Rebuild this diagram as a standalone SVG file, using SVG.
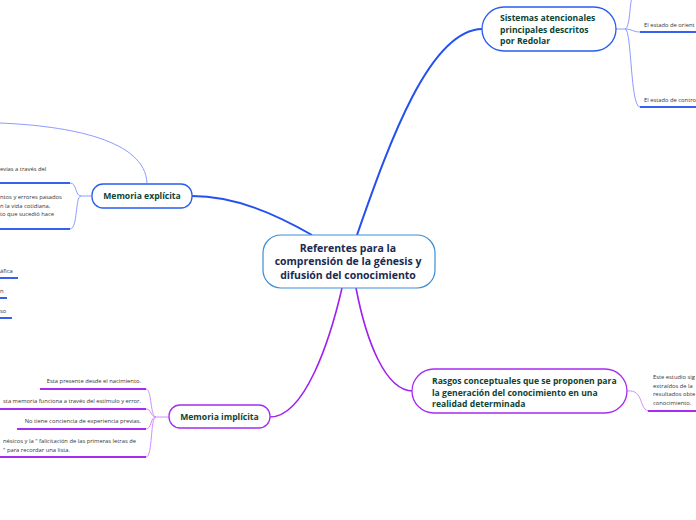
<svg xmlns="http://www.w3.org/2000/svg" width="696" height="520" viewBox="0 0 696 520">
<style>
.bg{fill:#ffffff}
.center{fill:#fff;stroke:#3a8ed6;stroke-width:1.2}
.nb{fill:#fff;stroke:#2a5cf0;stroke-width:1.3}
.np{fill:#fff;stroke:#a52cf0;stroke-width:1.3}
.tc{font-family:"Open Sans","Noto Sans",sans-serif;font-weight:bold;font-size:10.5px;fill:#1a2a52;text-anchor:middle}
.tn{font-family:"Open Sans","Noto Sans",sans-serif;font-weight:bold;font-size:8.6px;fill:#0e4434}
.ts{font-family:"Open Sans","Noto Sans",sans-serif;font-size:5.8px;fill:#333}
.mb{fill:none;stroke:#2450f0;stroke-width:2}
.mp{fill:none;stroke:#a020f0;stroke-width:1.6}
.lb{fill:none;stroke:#8a9cff;stroke-width:1}
.lp{fill:none;stroke:#d58cff;stroke-width:1}
.ub{stroke:#3560f0;stroke-width:2}
.up{stroke:#a52cf0;stroke-width:2}
</style>
<rect class="bg" x="0" y="0" width="696" height="520"/>
<g id="connectors">
<path class="mb" d="M312,235 C275,214 235,196 192,196"/>
<path class="mb" d="M357,235 C390,140 430,30 482,29"/>
<path class="mp" d="M342,288 C330,340 305,417 270,417"/>
<path class="mp" d="M356,288 C366,340 385,391 413,391"/>
<path class="lb" d="M0,123 C70,126 145,140 147,183"/>
<path class="lb" d="M92,196 L81,196 C75,196 77,183 70,183"/>
<path class="lb" d="M81,196 C75,196 78,229 70,229"/>
<line class="ub" x1="0" y1="183" x2="70" y2="183"/>
<line class="ub" x1="0" y1="229" x2="70" y2="229"/>
<line class="ub" x1="0" y1="278" x2="18" y2="278"/>
<line class="ub" x1="0" y1="298" x2="7" y2="298"/>
<line class="ub" x1="0" y1="318" x2="12" y2="318"/>
<path class="lp" d="M169,417 L156,417 C150,417 152,389 146,389"/>
<path class="lp" d="M156,417 C150,417 152,409 146,409"/>
<path class="lp" d="M156,417 C150,417 152,429 146,429"/>
<path class="lp" d="M156,417 C150,417 153,457 146,457"/>
<line class="up" x1="40" y1="389" x2="146" y2="389"/>
<line class="up" x1="0" y1="409" x2="146" y2="409"/>
<line class="up" x1="17" y1="429" x2="146" y2="429"/>
<line class="up" x1="0" y1="457" x2="146" y2="457"/>
<path class="lb" d="M616,29 L625,29 C630,29 630,0 632,-2"/>
<path class="lb" d="M625,29 C632,29 633,32 640,32"/>
<path class="lb" d="M625,29 C632,29 630,107 640,107"/>
<line class="ub" x1="640" y1="32" x2="696" y2="32"/>
<line class="ub" x1="640" y1="107" x2="696" y2="107"/>
<path class="lp" d="M627,391 C645,389 638,411 650,411"/>
<line class="up" x1="648" y1="411" x2="696" y2="411"/>
</g>
<g id="central">
<rect class="center" x="263" y="235" width="172" height="53" rx="18"/>
<text class="tc" x="348" y="252">Referentes para la</text>
<text class="tc" x="348" y="265">comprensión de la génesis y</text>
<text class="tc" x="348" y="279">difusión del conocimiento</text>
</g>
<g id="memoria-explicita">
<rect class="nb" x="92" y="184" width="100" height="24" rx="11"/>
<text class="tn" x="142" y="199" text-anchor="middle">Memoria explícita</text>
</g>
<g id="explicita-items">
<text class="ts" x="0" y="171">evias a través del</text>
<text class="ts" x="0" y="199">ntos y errores pasados</text>
<text class="ts" x="0" y="207.5">n la vida cotidiana,</text>
<text class="ts" x="0" y="216">to que sucedió hace</text>
<text class="ts" x="0" y="273">áfica</text>
<text class="ts" x="0" y="293">n</text>
<text class="ts" x="0" y="313">so</text>
</g>
<g id="memoria-implicita">
<rect class="np" x="169" y="405" width="101" height="23" rx="11"/>
<text class="tn" x="219.5" y="420" text-anchor="middle">Memoria implícita</text>
</g>
<g id="implicita-items">
<text class="ts" x="141" y="383" text-anchor="end">Esta presente desde el nacimiento.</text>
<text class="ts" x="141" y="403" text-anchor="end">sta memoria funciona a través del estímulo y error.</text>
<text class="ts" x="141" y="423" text-anchor="end">No tiene conciencia de experiencia previas.</text>
<text class="ts" x="136" y="443" text-anchor="end">nésicos y la " falicitación de las primeras letras de</text>
<text class="ts" x="70" y="452" text-anchor="end">" para recordar una lista.</text>
</g>
<g id="sistemas">
<rect class="nb" x="482" y="7" width="134" height="44" rx="22"/>
<text class="tn" x="500" y="21">Sistemas atencionales</text>
<text class="tn" x="500" y="32.5">principales descritos</text>
<text class="tn" x="500" y="44">por Redolar</text>
</g>
<g id="sistemas-items">
<text class="ts" x="644" y="27">El estado de orient</text>
<text class="ts" x="644" y="102">El estado de contro</text>
</g>
<g id="rasgos">
<rect class="np" x="412" y="369" width="215" height="44" rx="22"/>
<text class="tn" x="432" y="384">Rasgos conceptuales que se proponen para</text>
<text class="tn" x="432" y="395.5">la generación del conocimiento en una</text>
<text class="tn" x="432" y="407">realidad determinada</text>
</g>
<g id="rasgos-items">
<text class="ts" x="653" y="379">Este estudio sig</text>
<text class="ts" x="653" y="387.5">extraídos de la</text>
<text class="ts" x="653" y="396">resultados obte</text>
<text class="ts" x="653" y="404.5">conocimiento.</text>
</g>
</svg>
